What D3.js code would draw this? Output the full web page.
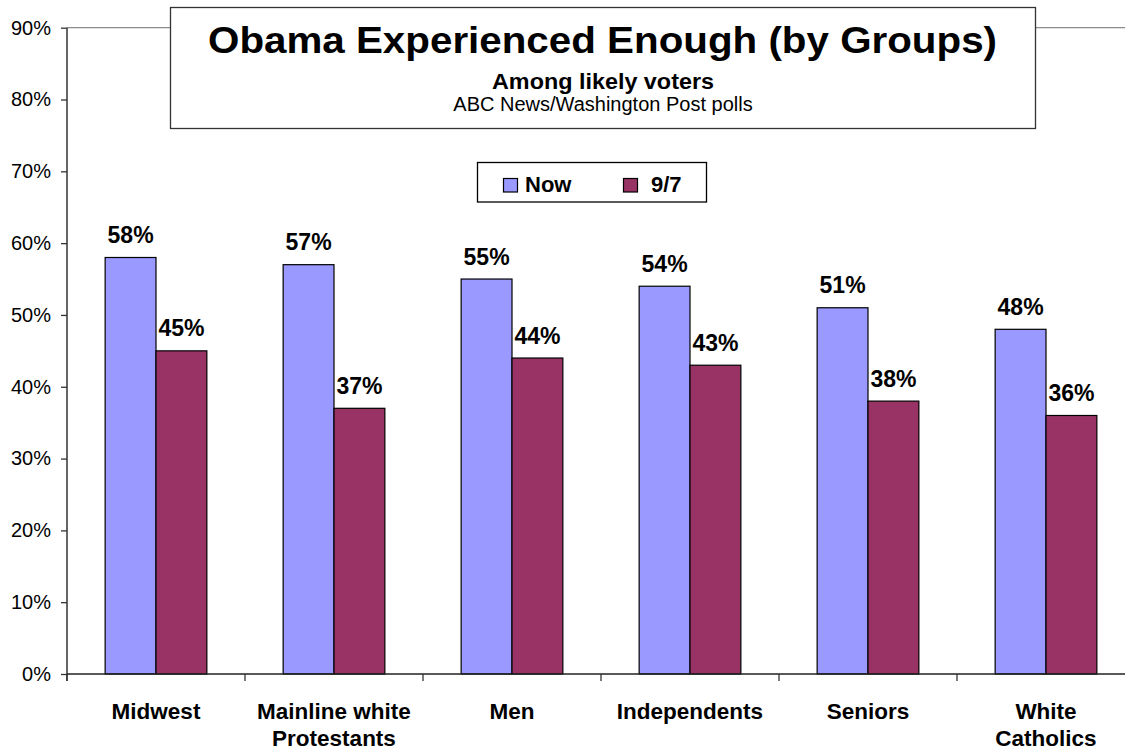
<!DOCTYPE html>
<html>
<head>
<meta charset="utf-8">
<script src="https://cdn.jsdelivr.net/npm/d3@7"></script>
<style>
  html, body { margin: 0; padding: 0; background: #fff; }
  svg { display: block; font-family: Arial, "Liberation Sans", sans-serif; }
</style>
</head>
<body>
<svg id="chart" width="1125" height="749"></svg>
<script>
// ---- data ----
const categories = [["Midwest"], ["Mainline white", "Protestants"], ["Men"], ["Independents"], ["Seniors"], ["White", "Catholics"]];
const seriesNames = ["Now", "9/7"];
const nowValues = [0.58, 0.57, 0.55, 0.54, 0.51, 0.48];
const sept7Values = [0.45, 0.37, 0.44, 0.43, 0.38, 0.36];
const yTickValues = [0, 0.1, 0.2, 0.3, 0.4, 0.5, 0.6, 0.7, 0.8, 0.9];
const titleText = "Obama Experienced Enough (by Groups)";
const subtitleText = "Among likely voters";
const sourceText = "ABC News/Washington Post polls";

const colors = { "Now": "#9999FF", "9/7": "#993366" };
const seriesValues = { "Now": nowValues, "9/7": sept7Values };

const svg = d3.select("#chart");
const plotLeft = 67, plotRight = 1135, plotTop = 27.7, plotBottom = 674;

const catKeys = categories.map(c => c.join(" "));
const x0 = d3.scaleBand().domain(catKeys).range([plotLeft, plotRight]).paddingInner(0).paddingOuter(0);
const x1 = d3.scaleBand().domain(seriesNames).range([0, x0.bandwidth()]).paddingInner(0).paddingOuter(0.75);
const y = d3.scaleLinear().domain([0, 0.9]).range([plotBottom, plotTop]);

// plot area top border
svg.append("line").attr("x1", plotLeft).attr("x2", plotRight).attr("y1", y(0.9)).attr("y2", y(0.9))
  .attr("stroke", "#8c8c8c").attr("stroke-width", 1.3);

// bars
const groups = svg.append("g").selectAll("g").data(catKeys).join("g")
  .attr("transform", d => `translate(${x0(d)},0)`);
seriesNames.forEach(s => {
  groups.append("rect")
    .attr("x", x1(s))
    .attr("width", x1.bandwidth())
    .attr("y", (d, i) => y(seriesValues[s][i]))
    .attr("height", (d, i) => y(0) - y(seriesValues[s][i]))
    .attr("fill", colors[s])
    .attr("stroke", "#000").attr("stroke-width", 1.2);
  groups.append("text")
    .attr("x", x1(s) + x1.bandwidth() / 2)
    .attr("y", (d, i) => y(seriesValues[s][i]) - 14.5)
    .attr("text-anchor", "middle")
    .attr("font-weight", "bold").attr("font-size", 23)
    .text((d, i) => d3.format(".0%")(seriesValues[s][i]));
});

// y axis
const yAxis = d3.axisLeft(y).tickValues(yTickValues).tickFormat(d3.format(".0%")).tickSize(6).tickPadding(10);
const yg = svg.append("g").attr("transform", `translate(${plotLeft},0)`).call(yAxis);
yg.select(".domain").attr("stroke", "#333").attr("stroke-width", 1.5).attr("d", `M0,${y(0.9)}V${plotBottom + 7}`);
yg.selectAll(".tick line").attr("stroke", "#333").attr("stroke-width", 1.3);
yg.selectAll(".tick text").attr("font-size", 20).attr("font-family", "Arial, 'Liberation Sans', sans-serif").attr("fill", "#000");

// x axis
svg.append("line").attr("x1", plotLeft).attr("x2", plotRight).attr("y1", plotBottom).attr("y2", plotBottom)
  .attr("stroke", "#222").attr("stroke-width", 1.5);
const boundaries = catKeys.map(c => x0(c)).concat([plotRight]);
svg.append("g").selectAll("line").data(boundaries).join("line")
  .attr("x1", d => d).attr("x2", d => d).attr("y1", plotBottom).attr("y2", plotBottom + 7)
  .attr("stroke", "#333").attr("stroke-width", 1.3);
svg.append("g").selectAll("text").data(categories).join("text")
  .attr("x", (d, i) => x0(catKeys[i]) + x0.bandwidth() / 2)
  .attr("y", 718.5)
  .attr("text-anchor", "middle").attr("font-weight", "bold").attr("font-size", 22.5)
  .selectAll("tspan").data(d => d).join("tspan")
  .attr("x", function() { return d3.select(this.parentNode).attr("x"); })
  .attr("dy", (d, i) => i === 0 ? 0 : 27)
  .text(d => d);

// title box
svg.append("rect").attr("x", 170.5).attr("y", 7.5).attr("width", 865).attr("height", 121)
  .attr("fill", "#fff").attr("stroke", "#333").attr("stroke-width", 1.3);
svg.append("text").attr("x", 602.5).attr("y", 53).attr("text-anchor", "middle")
  .attr("font-weight", "bold").attr("font-size", 36)
  .attr("textLength", 789).attr("lengthAdjust", "spacingAndGlyphs").text(titleText);
svg.append("text").attr("x", 603).attr("y", 89).attr("text-anchor", "middle")
  .attr("font-weight", "bold").attr("font-size", 22)
  .attr("textLength", 222).attr("lengthAdjust", "spacingAndGlyphs").text(subtitleText);
svg.append("text").attr("x", 603).attr("y", 110.5).attr("text-anchor", "middle")
  .attr("font-size", 20).text(sourceText);

// legend
svg.append("rect").attr("x", 477.5).attr("y", 162.5).attr("width", 229).attr("height", 39.5)
  .attr("fill", "#fff").attr("stroke", "#000").attr("stroke-width", 1.3);
const legendX = { "Now": 503, "9/7": 623 };
seriesNames.forEach(s => {
  svg.append("rect").attr("x", legendX[s] + 0.5).attr("y", 178.5).attr("width", 14).attr("height", 13.5)
    .attr("fill", colors[s]).attr("stroke", "#000").attr("stroke-width", 1.2);
  svg.append("text").attr("x", legendX[s] + (s === "Now" ? 22 : 28)).attr("y", 192)
    .attr("font-weight", "bold").attr("font-size", 22).text(s);
});
</script>
</body>
</html>
